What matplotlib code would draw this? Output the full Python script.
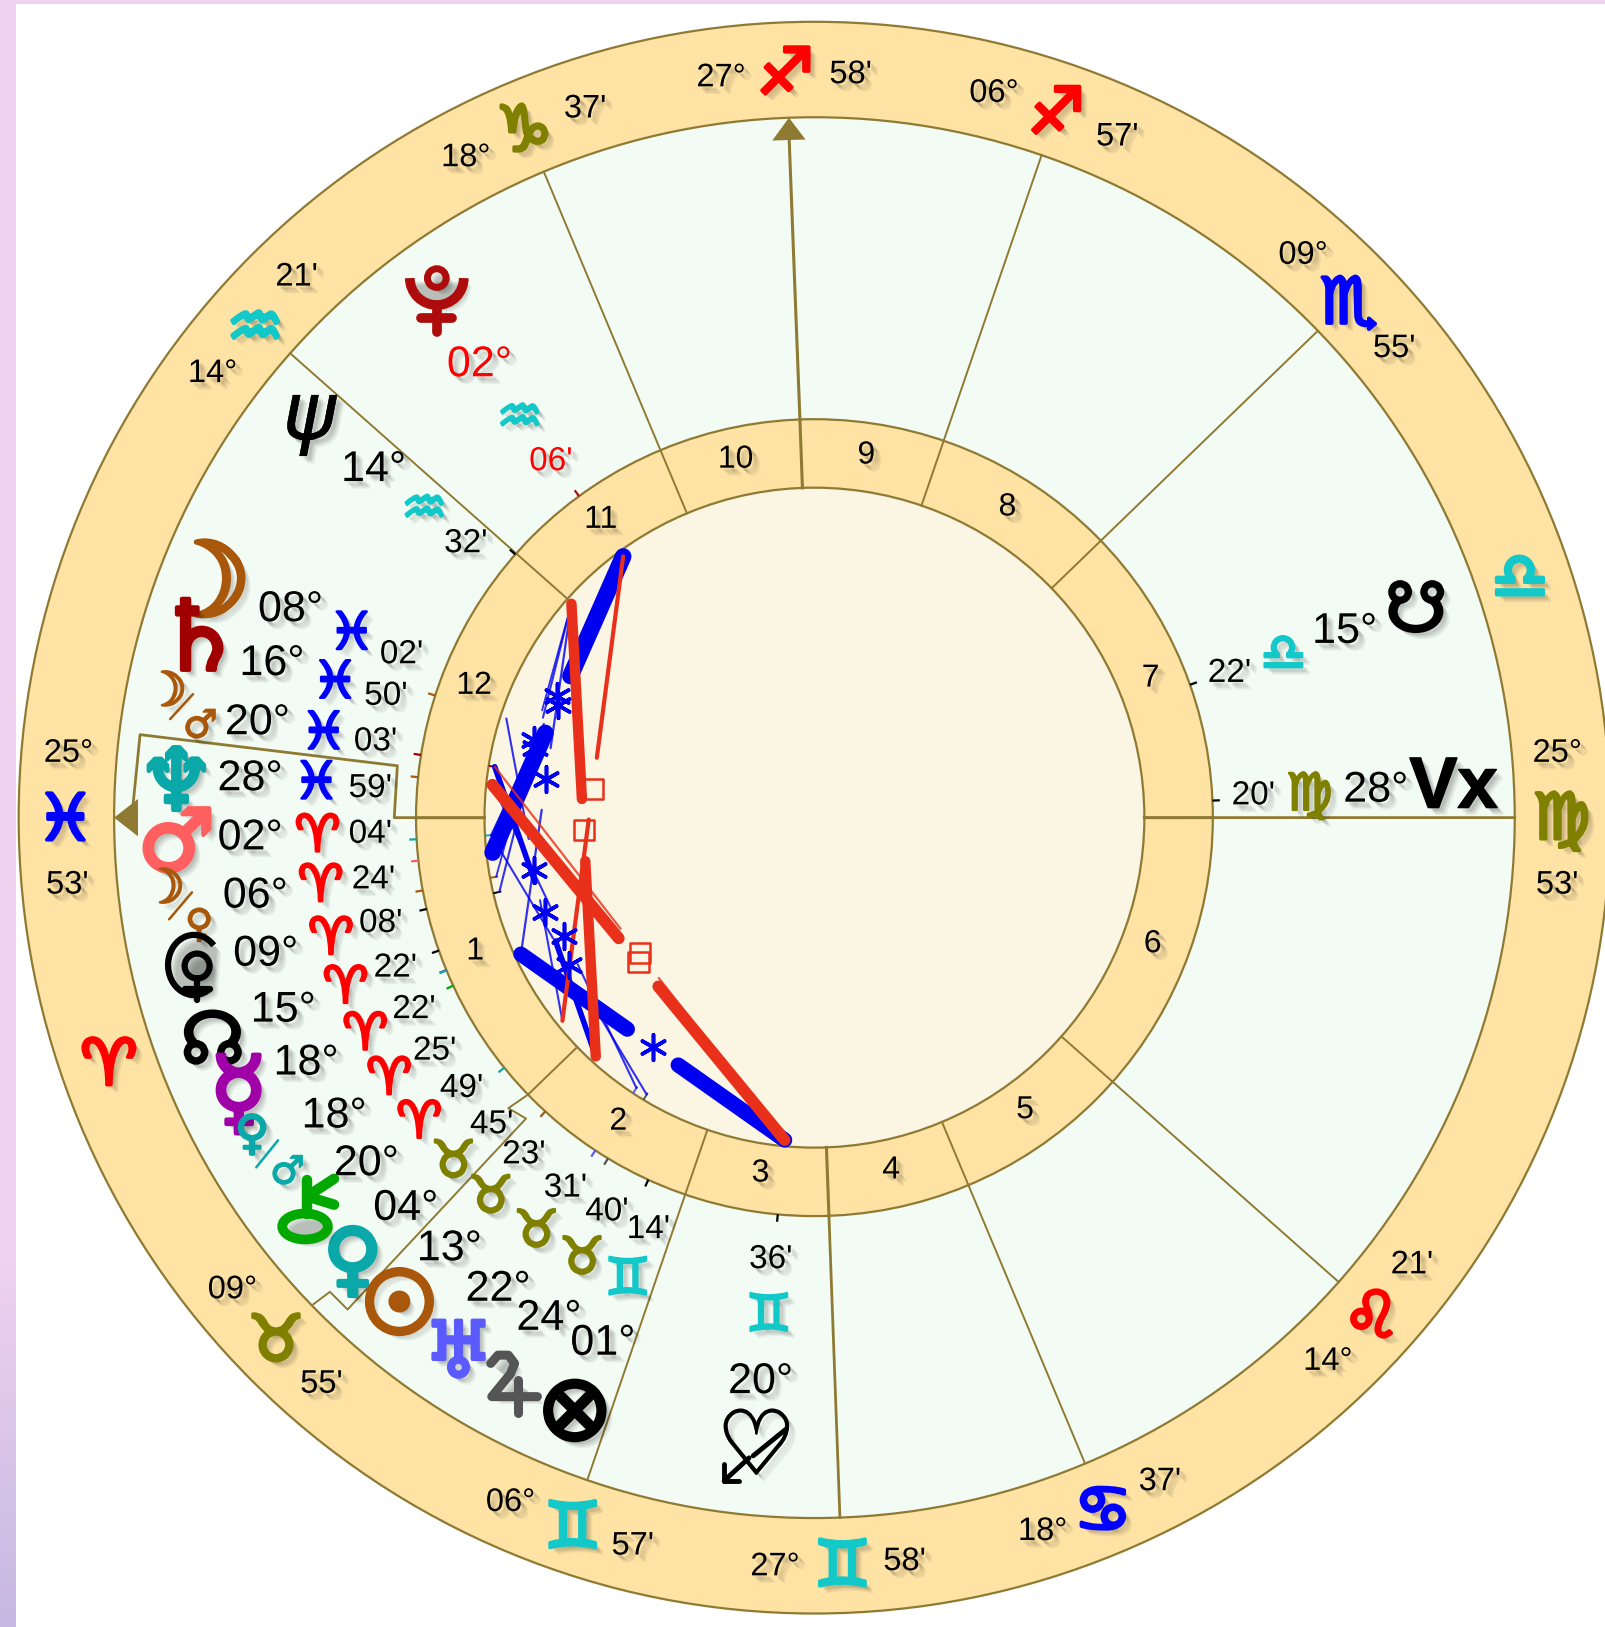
import math
import numpy as np
import matplotlib
matplotlib.use("Agg")
import matplotlib.pyplot as plt
import matplotlib.patheffects as pe
from matplotlib.patches import Circle, Polygon, Ellipse, Arc

# ---------- data ----------
SIGNS = ["♈", "♉", "♊", "♋", "♌", "♍", "♎", "♏", "♐", "♑", "♒", "♓"]
sign_colors = ["#FF0000", "#808000", "#12C8C8", "#0000FF"] * 3

house_numbers = list(range(1, 13))
cusp_sign = [11, 1, 2, 2, 3, 4, 5, 7, 8, 8, 9, 10]
cusp_deg = [25, 9, 6, 27, 18, 14, 25, 9, 6, 27, 18, 14]
cusp_min = [53, 55, 57, 58, 37, 21, 53, 55, 57, 58, 37, 21]

bodies = ["Moon", "Saturn", "MoMa", "Neptune", "Mars", "MoVe", "Lilith", "NNode", "Mercury", "VeMa",
          "Chiron", "Venus", "Sun", "Uranus", "Jupiter", "Fortune", "Cupid", "NeptuneB", "Pluto",
          "SNode", "Vertex"]
body_sign = [11, 11, 11, 11, 0, 0, 0, 0, 0, 0, 0, 1, 1, 1, 1, 2, 2, 10, 10, 6, 5]
body_deg = [8, 16, 20, 28, 2, 6, 9, 15, 18, 18, 20, 4, 13, 22, 24, 1, 20, 14, 2, 15, 28]
body_min = [2, 50, 3, 59, 4, 24, 8, 22, 22, 25, 49, 45, 23, 31, 40, 14, 36, 32, 6, 22, 20]
body_colors = ["#A9570B", "#A00000", "#A9570B", "#0AA8A8", "#FF5F5F", "#A9570B", "#000000", "#000000",
               "#A000A8", "#0AA8A8", "#00A800", "#0AA8A8", "#A9570B", "#5A5AFF", "#555555", "#000000",
               "#000000", "#000000", "#AE0C0C", "#000000", "#000000"]
body_glyphs = ["☽", "♄", None, "♆", "♂", None, None, "☊", "☿", None, None, "♀", "☉", "♅", None, "⊗",
               None, "ψ", None, "☋", None]

# aspect: body a, body b, kind, weight
aspects = [
    ("Pluto", "Mars", "sextile", 12), ("Pluto", "Neptune", "sextile", 1.6),
    ("Chiron", "Cupid", "sextile", 11), ("NeptuneB", "Lilith", "sextile", 1.5),
    ("NeptuneB", "Chiron", "sextile", 1.6), ("Moon", "Venus", "sextile", 1.5),
    ("Saturn", "Sun", "sextile", 4), ("MoMa", "Uranus", "sextile", 1.5),
    ("Neptune", "Jupiter", "sextile", 1.5), ("NeptuneB", "MoVe", "sextile", 1.3),
    ("NeptuneB", "Sun", "square", 7.5), ("MoMa", "Cupid", "square", 8.5),
    ("Saturn", "Cupid", "square", 1.6), ("Pluto", "Venus", "square", 3),
]

# ---------- layout ----------
CX, CY = 785, 788
R_OUT, R_MID, R_RING, R_IN = 767, 675, 384, 318
ROT = 355.88
LINE = "#8F7A33"
RING = "#FEE3A5"
MID = "#F3FCF4"
CORE = "#FBF5E4"
BLUE = "#0000F0"
RED = "#E8301A"
TXT = "Liberation Sans"

ring_label_pos = {  # cusp index -> deg text, sign glyph, minute text positions
    0: ((66, 726), (63, 786), (65, 853)), 1: ((224, 1243), (266, 1288), (310, 1334)),
    2: ((492, 1448), (552, 1468), (610, 1490)), 3: ((747, 1510), (812, 1505), (872, 1505)),
    4: ((1005, 1476), (1063, 1452), (1118, 1428)), 5: ((1280, 1312), (1322, 1265), (1361, 1219)),
    6: ((1501, 726), (1505, 785), (1501, 853)), 7: ((1256, 246), (1300, 288), (1344, 336)),
    8: ((958, 90), (1018, 105), (1077, 132)), 9: ((695, 75), (757, 67), (820, 72)),
    10: ((449, 152), (505, 122), (564, 105)), 11: ((205, 360), (246, 312), (286, 267)),
}
extra_signs = [(0, (105, 1022)), (6, (1465, 553))]

house_pos = [(458, 917), (596, 1081), (733, 1131), (859, 1128), (988, 1070), (1111, 910),
             (1109, 654), (971, 489), (835, 439), (709, 443), (579, 501), (457, 661)]

body_pos = {  # glyph, degree, sign, minute
    "Moon": ((198, 566), (280, 588), (339, 608), (387, 631)),
    "Saturn": ((192, 620), (262, 640), (323, 655), (372, 671)),
    "MoMa": (None, (248, 697), (312, 704), (362, 715)),
    "Neptune": ((170, 758), (241, 751), (305, 752), (357, 760)),
    "Mars": ((170, 816), (241, 808), (306, 803), (357, 804)),
    "MoVe": (None, (246, 864), (309, 851), (360, 848)),
    "Lilith": (None, (256, 920), (319, 902), (367, 890)),
    "NNode": ((205, 1006), (273, 974), (333, 949), (381, 933)),
    "Mercury": ((230, 1058), (295, 1025), (352, 994), (399, 973)),
    "VeMa": (None, (322, 1076), (375, 1037), (419, 1013)),
    "Chiron": (None, (353, 1122), (404, 1079), (445, 1049)),
    "Venus": ((340, 1218), (391, 1165), (437, 1117), (474, 1084)),
    "Sun": ((385, 1262), (433, 1204), (473, 1151), (505, 1113)),
    "Uranus": ((442, 1306), (480, 1243), (517, 1184), (545, 1145)),
    "Jupiter": (None, (529, 1271), (561, 1210), (585, 1168)),
    "Fortune": ((554, 1362), (581, 1295), (605, 1230), (625, 1185)),
    "Cupid": (None, (733, 1332), (741, 1265), (743, 1214)),
    "NeptuneB": ((298, 402), (360, 453), (409, 488), (449, 524)),
    "Pluto": (None, (462, 352), (501, 400), (531, 445)),
    "SNode": ((1365, 590), (1296, 609), (1237, 628), (1185, 649)),
    "Vertex": (None, (1326, 762), (1262, 763), (1208, 767)),
}
glyph_size = {"Moon": 74, "Saturn": 70, "Neptune": 62, "Mars": 62, "NNode": 52, "Mercury": 68, "Venus": 58,
              "Sun": 62, "Uranus": 56, "Fortune": 66, "NeptuneB": 58, "SNode": 50}
glyph_stroke = {"Moon": 3.5, "Sun": 4.5, "Saturn": 3, "Fortune": 2.5, "NeptuneB": 0.3, "Neptune": 3, "Mars": 3,
                "Venus": 3, "Mercury": 3, "Uranus": 2.5, "NNode": 2, "SNode": 2}

# ---------- helpers ----------
fig = plt.figure(figsize=(16.05, 16.27), dpi=100)
ax = fig.add_axes([0, 0, 1, 1])
ax.set_axis_off()


def shadow(strength=1.0):
    fx = []
    for d, a in [(5.5, .05), (4.5, .06), (3.5, .07), (2.5, .08)]:
        fx.append(pe.SimplePatchShadow(offset=(d, -d), shadow_rgbFace="k", alpha=a * strength))
    return fx


def T(x, y, s, color="k", size=21, family=TXT, stroke=0, weight="normal", z=8, style="normal"):
    fx = shadow()
    if stroke:
        fx.append(pe.Stroke(linewidth=stroke, foreground=color))
    fx.append(pe.Normal())
    t = ax.text(x, y, s, color=color, fontsize=size, family=family, ha="center", va="center",
                weight=weight, zorder=z, style=style)
    t.set_path_effects(fx)
    return t


def glyph_line(xs, ys, color, lw, z=8):
    ln, = ax.plot(xs, ys, color=color, lw=lw, solid_capstyle="round", solid_joinstyle="round", zorder=z)
    ln.set_path_effects(shadow() + [pe.Normal()])


def lon(sign, deg, minute):
    return sign * 30 + deg + minute / 60


def pol(longitude, r):
    a = math.radians(180 + longitude - ROT)
    return CX + r * math.cos(a), CY - r * math.sin(a)


# ---------- background ----------
grad = np.zeros((256, 1, 3))
c0, c1 = np.array(matplotlib.colors.to_rgb("#EED2F0")), np.array(matplotlib.colors.to_rgb("#C6B8E2"))
for i in range(256):
    f = max(0, (i / 255 - 0.78) / 0.22)
    grad[i, 0] = c0 + (c1 - c0) * f
ax.imshow(grad, extent=(0, 15, 1568, 0), aspect="auto", zorder=0)
ax.add_patch(plt.Rectangle((0, 0), 1547, 3.5, color="#EED2F0", lw=0, zorder=0))
ax.set_xlim(0, 1547)
ax.set_ylim(1568, 0)

for r, col, z in [(R_OUT, RING, 1), (R_MID, MID, 2), (R_RING, RING, 3), (R_IN, CORE, 4)]:
    ax.add_patch(Circle((CX, CY), r, fc=col, ec=LINE, lw=1.6, zorder=z))

# ---------- cusps ----------
SIGN_DY = 6
cusp_lon = [lon(s, d, m) for s, d, m in zip(cusp_sign, cusp_deg, cusp_min)]
for i, L in enumerate(cusp_lon):
    x0, y0 = pol(L, R_IN)
    x1, y1 = pol(L, R_RING)
    heavy = i in (0, 3, 6, 9)
    ax.plot([x0, x1], [y0, y1], color=LINE, lw=2.2 if heavy else 1.4, zorder=5)
    x2, y2 = pol(L, R_MID)
    if i == 0:
        ax.plot([x1, 380, 383, 135, 127], [y1, 788, 738, 708, 788], color=LINE, lw=2.0, zorder=5)
        ax.add_patch(Polygon([(110, 788), (133, 770), (133, 806)], fc=LINE, ec="none", zorder=6))
    elif i == 1:
        ax.plot([x1, 490, 507, 335, 318, 302], [y1, 1068, 1078, 1262, 1245, 1257], color=LINE, lw=1.4, zorder=5)
    elif i == 9:
        ax.plot([x1, x2], [y1, y2 + 15], color=LINE, lw=2.2, zorder=5)
        ax.add_patch(Polygon([(x2, y2), (x2 - 16, y2 + 22), (x2 + 16, y2 + 21)], fc=LINE, ec="none", zorder=6))
    else:
        ax.plot([x1, x2], [y1, y2], color=LINE, lw=2.0 if heavy else 1.4, zorder=5)
    pos = ring_label_pos[i]
    T(*pos[0], f"{cusp_deg[i]:02d}°", size=23.5)
    T(pos[1][0], pos[1][1] + SIGN_DY, SIGNS[cusp_sign[i]], color=sign_colors[cusp_sign[i]], size=46,
      family="DejaVu Sans", stroke=2.6)
    T(*pos[2], f"{cusp_min[i]:02d}'", size=23.5)
    T(*house_pos[i], str(house_numbers[i]), size=23, z=9)
for s, p in extra_signs:
    T(p[0], p[1] + SIGN_DY, SIGNS[s], color=sign_colors[s], size=46, family="DejaVu Sans", stroke=2.6)

# ---------- bodies ----------
body_lon = {n: lon(s, d, m) for n, s, d, m in zip(bodies, body_sign, body_deg, body_min)}
for i, n in enumerate(bodies):
    gp, dp, sp, mp = body_pos[n]
    txt_col = "#FF0000" if n == "Pluto" else "k"
    T(*dp, f"{body_deg[i]:02d}°", size=31, color=txt_col)
    T(sp[0], sp[1] + 4, SIGNS[body_sign[i]], color=sign_colors[body_sign[i]], size=37, family="DejaVu Sans",
      stroke=1.8)
    T(*mp, f"{body_min[i]:02d}'", size=24, color=txt_col)
    if body_glyphs[i]:
        T(*gp, body_glyphs[i], color=body_colors[i], size=glyph_size[n], family="DejaVu Sans",
          stroke=glyph_stroke[n], style="oblique" if n == "NeptuneB" else "normal")
    # tick marks either side of the ring
    x0, y0 = pol(body_lon[n], R_RING + 1)
    x1, y1 = pol(body_lon[n], R_RING + 6)
    ax.plot([x0, x1], [y0, y1], color=body_colors[i], lw=1.6, zorder=5)
    if n in ("MoMa", "Saturn", "Neptune", "MoVe", "Lilith", "Chiron", "Uranus", "Jupiter"):
        x0, y0 = pol(body_lon[n], R_IN - 1)
        x1, y1 = pol(body_lon[n], R_IN - 7)
        ax.plot([x0, x1], [y0, y1], color=body_colors[i], lw=1.4, zorder=5)

# Vertex as bold lettering
T(1401, 760, "Vx", size=52, weight="bold", stroke=1.0)

# midpoint pairs
for (mx, my), (sx0, sy0, sx1, sy1), (gx, gy), gl, col in [
    ((160, 668), (164, 693, 186, 669), (193, 700), "♂", "#A9570B"),
    ((158, 858), (163, 886, 185, 860), (192, 892), "♀", "#A9570B"),
    ((243, 1095), (247, 1125, 268, 1099), (277, 1130), "♂", "#0AA8A8"),
]:
    first = "♀" if my > 1000 else "☽"
    T(mx, my, first, color=col, size=34, family="DejaVu Sans", stroke=1.6)
    glyph_line([sx0, sx1], [sy0, sy1], col, 1.8)
    T(gx, gy, gl, color=col, size=28, family="DejaVu Sans", stroke=1.0)

# Lilith-like black glyph, Chiron, Pluto, Jupiter and Cupid are composed from simple shapes
fx_s = shadow() + [pe.Normal()]
for a in [Arc((187, 930), 50, 58, theta1=55, theta2=315, color="k", lw=4.5, zorder=8),
          Circle((190, 931), 12, fc="none", ec="k", lw=4.5, zorder=8),
          Ellipse((294, 1182), 44, 25, fc="none", ec="#00A800", lw=7, zorder=8),
          Arc((421, 268), 52, 52, theta1=0, theta2=180, color="#AE0C0C", lw=7, zorder=8),
          Circle((421, 268), 9, fc="none", ec="#AE0C0C", lw=5, zorder=8)]:
    ax.add_patch(a)
    a.set_path_effects(fx_s)
glyph_line([190, 190], [943, 964], "k", 4.5)
glyph_line([178, 202], [953, 953], "k", 4.5)
glyph_line([296, 296], [1137, 1170], "#00A800", 7.5)
glyph_line([296, 322], [1153, 1136], "#00A800", 7.5)
glyph_line([296, 322], [1153, 1161], "#00A800", 7.5)
glyph_line([421, 421], [294, 320], "#AE0C0C", 7)
glyph_line([406, 436], [306, 306], "#AE0C0C", 7)
glyph_line([473, 480, 490, 496, 492, 474, 518], [1314, 1306, 1306, 1314, 1324, 1346, 1346], "#555555", 6.5)
glyph_line([499, 499], [1330, 1362], "#555555", 6.5)
T(729, 1397, "♡", size=64, family="DejaVu Sans", stroke=1.4)
glyph_line([726, 758], [1403, 1377], "k", 3.5)
glyph_line([698, 722], [1427, 1405], "k", 3.5)
glyph_line([698, 698], [1427, 1411], "k", 3.5)
glyph_line([698, 712], [1427, 1427], "k", 3.5)

# ---------- aspects ----------
GAP = 30
for a, b, kind, w in aspects:
    x0, y0 = pol(body_lon[a], R_IN - 6)
    x1, y1 = pol(body_lon[b], R_IN - 6)
    xm, ym = (x0 + x1) / 2, (y0 + y1) / 2
    L = math.hypot(x1 - x0, y1 - y0)
    t = GAP / L
    col = BLUE if kind == "sextile" else RED
    ax.plot([x0, xm - (x1 - x0) * t], [y0, ym - (y1 - y0) * t], color=col, lw=w,
            solid_capstyle="round", alpha=1 if w > 2 else 0.8, zorder=6)
    ax.plot([xm + (x1 - x0) * t, x1], [ym + (y1 - y0) * t, y1], color=col, lw=w,
            solid_capstyle="round", alpha=1 if w > 2 else 0.8, zorder=6)
    if kind == "sextile":
        ax.scatter([xm], [ym], marker=(6, 2, 0), s=340, color=col, lw=2.6, zorder=7)
    else:
        ax.scatter([xm], [ym], marker="s", s=210, facecolor="none", edgecolor=col, lw=1.8, zorder=7)

ax.set_xlim(0, 1547)
ax.set_ylim(1568, 0)
fig.savefig("out.png", dpi=100, facecolor="white")
